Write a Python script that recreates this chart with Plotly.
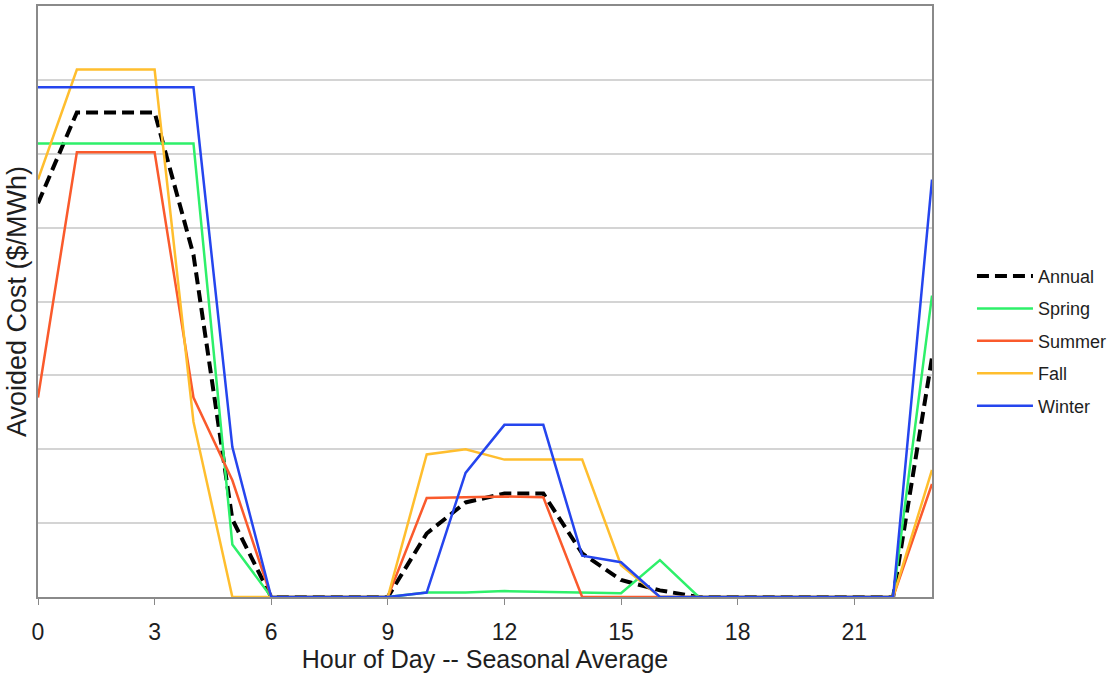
import plotly.graph_objects as go

# Hour of day (0-23) and seasonal average avoided cost values
hours = list(range(24))

annual = [5.33, 6.56, 6.56, 6.56, 4.63, 1.05, 0, 0, 0, 0, 0.86, 1.28,
          1.40, 1.40, 0.59, 0.23, 0.09, 0, 0, 0, 0, 0, 0, 3.24]
spring = [6.14, 6.14, 6.14, 6.14, 6.14, 0.71, 0, 0, 0, 0, 0.06, 0.06,
          0.08, 0.07, 0.07, 0.05, 0.50, 0, 0, 0, 0, 0, 0, 4.08]
summer = [2.70, 6.02, 6.02, 6.02, 2.70, 1.58, 0, 0, 0, 0, 1.34, 1.35,
          1.36, 1.35, 0, 0, 0, 0, 0, 0, 0, 0, 0, 1.53]
fall = [5.65, 7.14, 7.14, 7.14, 2.37, 0, 0, 0, 0, 0, 1.93, 2.00,
        1.86, 1.86, 1.86, 0.43, 0, 0, 0, 0, 0, 0, 0, 1.72]
winter = [6.90, 6.90, 6.90, 6.90, 6.90, 2.03, 0, 0, 0, 0, 0.06, 1.68,
          2.33, 2.33, 0.56, 0.47, 0, 0, 0, 0, 0, 0, 0, 5.65]

x_ticks = [0, 3, 6, 9, 12, 15, 18, 21]

series = [
    ("Annual", annual, "#000000", 4, "12px,6px"),
    ("Spring", spring, "#2EF06A", 2.5, "solid"),
    ("Summer", summer, "#FA5A2C", 2.5, "solid"),
    ("Fall", fall, "#FFBE2E", 2.5, "solid"),
    ("Winter", winter, "#2545EE", 2.5, "solid"),
]

fig = go.Figure()
for name, vals, color, width, dash in series:
    fig.add_trace(go.Scatter(
        x=hours, y=vals, mode="lines", name=name, legendgroup=name,
        line=dict(color=color, width=width, dash=dash),
    ))

font = "Liberation Sans, Arial, sans-serif"
ink = "#1e1e1e"

fig.update_layout(
    width=1119, height=679,
    margin=dict(l=38, r=187, t=4, b=82),
    paper_bgcolor="white", plot_bgcolor="white",
    font=dict(family=font, color=ink),
    showlegend=True,
    legend=dict(
        x=1.0447, xanchor="left", y=0.4334, yanchor="middle",
        font=dict(size=18, family=font, color=ink),
        traceorder="grouped", tracegroupgap=6, itemwidth=56,
        bgcolor="rgba(0,0,0,0)",
    ),
    xaxis=dict(
        range=[0, 23], tickmode="array", tickvals=x_ticks,
        ticks="outside", ticklen=6, tickcolor="#888888",
        ticklabelstandoff=8,
        showline=True, linecolor="#8a8a8a", linewidth=1.5, mirror=True,
        showgrid=False, zeroline=False,
        tickfont=dict(size=23, family=font, color=ink),
        title=dict(text="Hour of Day -- Seasonal Average",
                   font=dict(size=25, family=font, color=ink), standoff=6),
    ),
    yaxis=dict(
        range=[0, 8], dtick=1, showticklabels=False,
        showline=True, linecolor="#8a8a8a", linewidth=1.5, mirror=True,
        showgrid=True, gridcolor="#d4d4d4", gridwidth=1.5, zeroline=False,
        ticks="",
        title=dict(text="Avoided Cost ($/MWh)",
                   font=dict(size=27, family=font, color=ink), standoff=2),
    ),
)

fig.write_html("out.html")
